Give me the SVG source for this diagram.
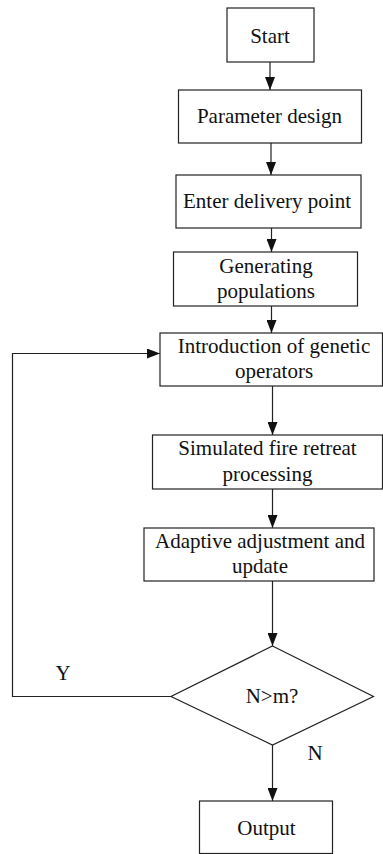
<svg xmlns="http://www.w3.org/2000/svg" width="383" height="854" viewBox="0 0 383 854">
<style>
.b{fill:#fff;stroke:#222;stroke-width:1.2}
.t{font-size:21px;fill:#111;text-anchor:middle}
.c{fill:none;stroke:#222;stroke-width:1.2}
</style>
<defs>
<marker id="a" markerWidth="13" markerHeight="10" refX="13" refY="5" orient="auto" markerUnits="userSpaceOnUse">
<path d="M0,0 L13,5 L0,10 Z" fill="#111"/>
</marker>
</defs>
<rect width="383" height="854" fill="#fff"/>
<g font-family="'Liberation Serif', 'Times New Roman', 'DejaVu Serif', serif">
<g id="connectors">
<line class="c" x1="270" y1="62" x2="270" y2="90" marker-end="url(#a)"/>
<line class="c" x1="271" y1="143" x2="271" y2="175" marker-end="url(#a)"/>
<line class="c" x1="271.5" y1="228" x2="271.5" y2="252" marker-end="url(#a)"/>
<line class="c" x1="271.5" y1="306" x2="271.5" y2="333" marker-end="url(#a)"/>
<line class="c" x1="272.5" y1="386" x2="272.5" y2="435" marker-end="url(#a)"/>
<line class="c" x1="272.5" y1="489" x2="272.5" y2="528" marker-end="url(#a)"/>
<line class="c" x1="272.5" y1="581" x2="272.5" y2="646" marker-end="url(#a)"/>
<line class="c" x1="272.5" y1="745" x2="272.5" y2="801" marker-end="url(#a)"/>
<polyline class="c" points="171,696.5 12.5,696.5 12.5,353.5 160,353.5" marker-end="url(#a)"/>
<text class="t" x="63" y="680">Y</text>
<text class="t" x="315" y="760">N</text>
</g>
<g id="start"><rect class="b" x="227" y="8" width="87" height="54"/><text class="t" x="270" y="43">Start</text></g>
<g id="param"><rect class="b" x="178.5" y="90" width="183" height="53"/><text class="t" x="269.5" y="123">Parameter design</text></g>
<g id="enter"><rect class="b" x="176" y="175" width="185" height="53"/><text class="t" x="267" y="208">Enter delivery point</text></g>
<g id="generate"><rect class="b" x="173.5" y="252" width="184" height="54"/><text class="t" x="266" y="273">Generating</text><text class="t" x="266" y="298">populations</text></g>
<g id="intro"><rect class="b" x="160" y="333" width="222.5" height="53"/><text class="t" x="274" y="353">Introduction of genetic</text><text class="t" x="274" y="378">operators</text></g>
<g id="simulated"><rect class="b" x="152.5" y="435" width="230" height="54"/><text class="t" x="267.5" y="455">Simulated fire retreat</text><text class="t" x="267.5" y="481">processing</text></g>
<g id="adaptive"><rect class="b" x="144" y="528" width="230" height="53"/><text class="t" x="260" y="548">Adaptive adjustment and</text><text class="t" x="260" y="573">update</text></g>
<g id="decision"><polygon class="b" points="272.5,646 373.5,696.5 272.5,745 171,696.5"/><text class="t" x="272" y="703">N&gt;m?</text></g>
<g id="output"><rect class="b" x="199.5" y="801" width="133" height="52.5"/><text class="t" x="266.5" y="835">Output</text></g>
</g>
</svg>
